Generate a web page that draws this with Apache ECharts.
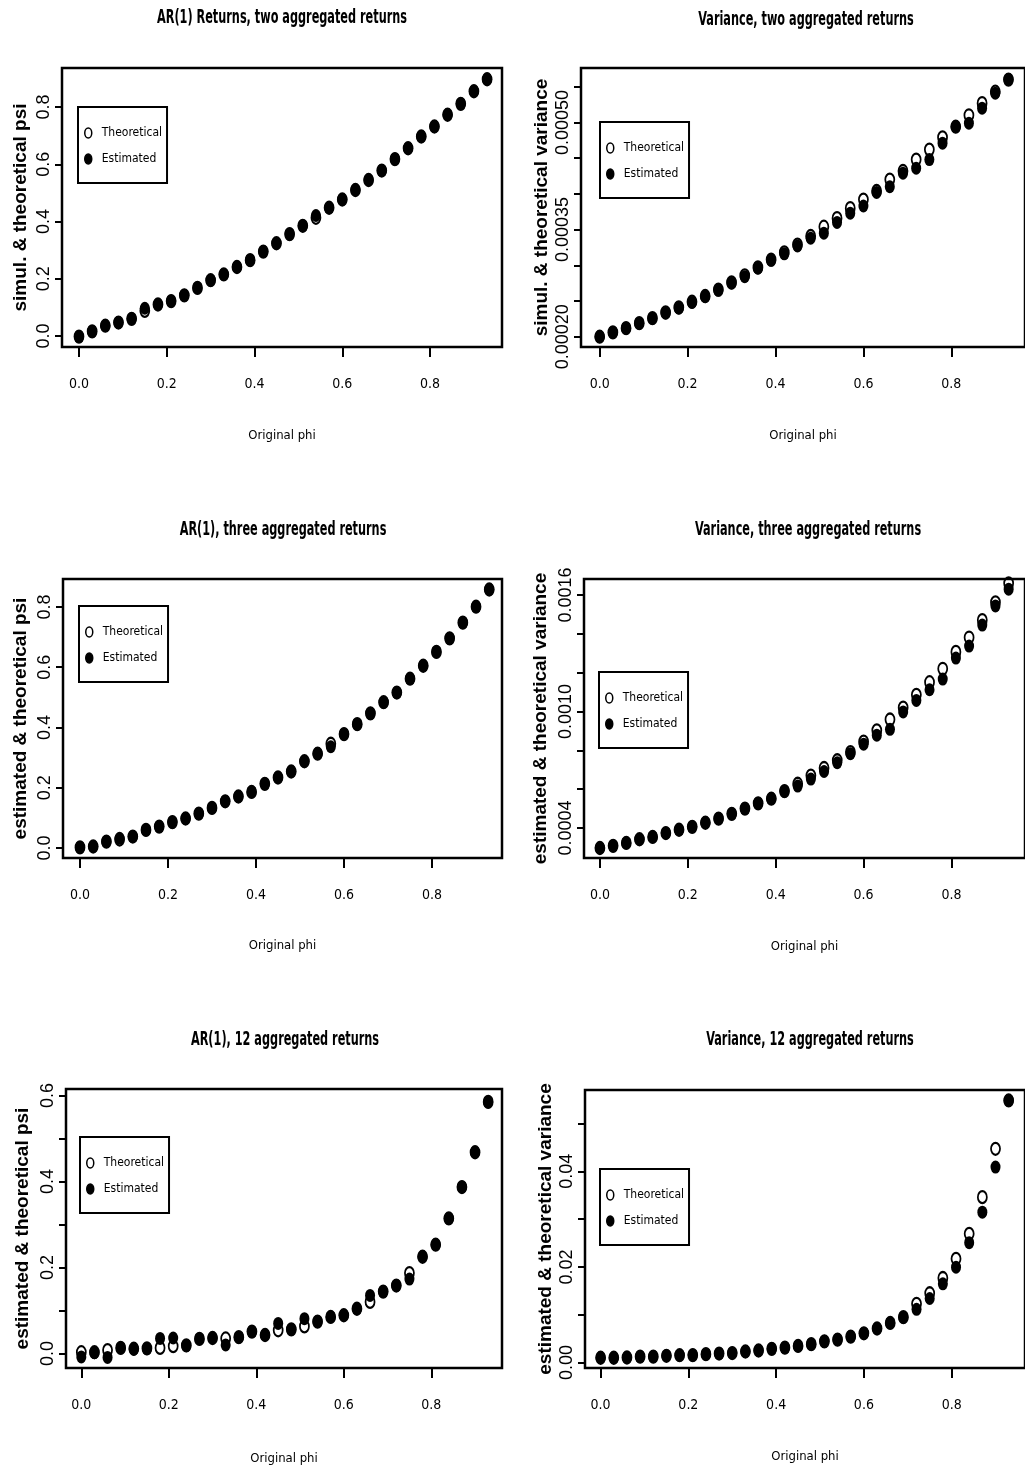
<!DOCTYPE html>
<html><head><meta charset="utf-8">
<script src="https://cdn.jsdelivr.net/npm/echarts@6/dist/echarts.min.js"></script>
<style>html,body{margin:0;padding:0;background:#fff}#c{width:1025px;height:1474px}</style>
</head><body><div id="c"></div>
<script>
// ---------- DATA ----------
const phi = [0.00,0.03,0.06,0.09,0.12,0.15,0.18,0.21,0.24,0.27,0.30,0.33,0.36,0.39,0.42,0.45,
             0.48,0.51,0.54,0.57,0.60,0.63,0.66,0.69,0.72,0.75,0.78,0.81,0.84,0.87,0.90,0.93];

const titles = ['AR(1) Returns, two aggregated returns','Variance, two aggregated returns',
  'AR(1), three aggregated returns','Variance, three aggregated returns',
  'AR(1), 12 aggregated returns','Variance, 12 aggregated returns'];
const yNames = ['simul. & theoretical psi','simul. & theoretical variance',
  'estimated & theoretical psi','estimated & theoretical variance',
  'estimated & theoretical psi','estimated & theoretical variance'];
const xName = 'Original phi';
const legendNames = ['Theoretical','Estimated'];
const xTicks = [0, 0.2, 0.4, 0.6, 0.8];

// Panel 1: AR(1) psi, two aggregated
const p1Theo = [-0.002,0.016,0.036,0.047,0.060,0.088,0.110,0.122,0.142,0.168,0.195,0.215,0.241,0.265,0.295,0.324,
                0.356,0.385,0.413,0.448,0.477,0.510,0.545,0.578,0.618,0.656,0.697,0.732,0.773,0.811,0.855,0.897];
const p1Est  = [-0.002,0.016,0.036,0.047,0.060,0.097,0.110,0.122,0.142,0.168,0.195,0.215,0.241,0.265,0.295,0.324,
                0.356,0.385,0.421,0.448,0.477,0.510,0.545,0.578,0.618,0.656,0.697,0.732,0.773,0.811,0.855,0.897];
const p1YTicks = [0, 0.2, 0.4, 0.6, 0.8];
const p1YLabels = [0, 0.2, 0.4, 0.6, 0.8];

// Panel 2: variance, two aggregated
const p2Theo = [0.000200,0.000206,0.000212,0.000219,0.000226,0.000234,0.000241,0.000249,0.000257,0.000266,0.000276,
                0.000286,0.000297,0.000308,0.000318,0.000329,0.000341,0.000354,0.000366,0.000380,0.000392,0.000404,
                0.000420,0.000432,0.000448,0.000462,0.000479,0.000494,0.000510,0.000527,0.000543,0.000560];
const p2Est  = [0.000200,0.000206,0.000212,0.000219,0.000226,0.000233,0.000240,0.000248,0.000256,0.000265,0.000275,
                0.000284,0.000296,0.000307,0.000316,0.000327,0.000338,0.000345,0.000360,0.000373,0.000383,0.000402,
                0.000410,0.000429,0.000436,0.000448,0.000471,0.000494,0.000499,0.000520,0.000541,0.000560];
const p2YTicks = [0.00020,0.00025,0.00030,0.00035,0.00040,0.00045,0.00050,0.00055];
const p2YLabels = [0.00020,0.00035,0.00050];

// Panel 3: AR(1) psi, three aggregated
const p3Theo = [0.002,0.005,0.021,0.028,0.038,0.060,0.071,0.086,0.098,0.114,0.133,0.155,0.171,0.186,0.213,0.234,
                0.254,0.288,0.313,0.346,0.378,0.411,0.447,0.484,0.516,0.562,0.605,0.651,0.696,0.748,0.801,0.858];
const p3Est  = [0.002,0.005,0.021,0.032,0.038,0.060,0.071,0.086,0.098,0.114,0.133,0.155,0.171,0.186,0.213,0.234,
                0.254,0.288,0.313,0.336,0.378,0.411,0.447,0.484,0.516,0.562,0.605,0.651,0.696,0.748,0.801,0.858];
const p3YTicks = [0, 0.2, 0.4, 0.6, 0.8];
const p3YLabels = [0, 0.2, 0.4, 0.6, 0.8];

// Panel 4: variance, three aggregated
const p4Theo = [0.000297,0.000308,0.000323,0.000342,0.000354,0.000374,0.000391,0.000406,0.000427,0.000448,0.000473,
                0.000500,0.000527,0.000551,0.000590,0.000628,0.000670,0.000709,0.000749,0.000791,0.000845,0.000903,
                0.000959,0.001020,0.001086,0.001151,0.001220,0.001307,0.001381,0.001471,0.001562,0.001660];
const p4Est  = [0.000297,0.000308,0.000323,0.000342,0.000354,0.000374,0.000391,0.000406,0.000427,0.000448,0.000473,
                0.000500,0.000527,0.000551,0.000590,0.000616,0.000652,0.000691,0.000736,0.000783,0.000832,0.000878,
                0.000908,0.000998,0.001057,0.001112,0.001167,0.001275,0.001337,0.001445,0.001544,0.001630];
const p4YTicks = [0.0004,0.0006,0.0008,0.0010,0.0012,0.0014,0.0016];
const p4YLabels = [0.0004,0.0010,0.0016];

// Panel 5: AR(1) psi, 12 aggregated
const p5Theo = [0.003,0.003,0.008,0.013,0.011,0.012,0.013,0.017,0.019,0.034,0.036,0.035,0.038,0.051,0.043,0.054,
                0.056,0.063,0.074,0.085,0.089,0.104,0.120,0.144,0.158,0.187,0.225,0.253,0.314,0.387,0.468,0.585];
const p5Est  = [-0.008,0.002,-0.009,0.013,0.010,0.011,0.035,0.036,0.018,0.034,0.036,0.020,0.038,0.051,0.043,0.070,
                0.056,0.081,0.074,0.085,0.089,0.104,0.135,0.144,0.158,0.173,0.225,0.253,0.314,0.387,0.468,0.585];
const p5YTicks = [0, 0.1, 0.2, 0.3, 0.4, 0.5, 0.6];
const p5YLabels = [0, 0.2, 0.4, 0.6];

// Panel 6: variance, 12 aggregated
const p6Theo = [0.00100,0.00100,0.00105,0.00122,0.00122,0.00140,0.00153,0.00155,0.00174,0.00187,0.00198,0.00230,
                0.00251,0.00286,0.00311,0.00346,0.00384,0.00442,0.00478,0.00541,0.00611,0.00711,0.00827,0.00948,
                0.01227,0.01448,0.01768,0.02169,0.02692,0.03459,0.04470,0.05481];
const p6Est  = [0.00100,0.00100,0.00105,0.00122,0.00122,0.00140,0.00153,0.00155,0.00174,0.00187,0.00198,0.00230,
                0.00251,0.00286,0.00311,0.00346,0.00384,0.00442,0.00478,0.00541,0.00611,0.00711,0.00827,0.00948,
                0.01113,0.01339,0.01646,0.01994,0.02507,0.03145,0.04087,0.05481];
const p6YTicks = [0, 0.01, 0.02, 0.03, 0.04, 0.05];
const p6YLabels = [0, 0.02, 0.04];

const theoSets = [p1Theo,p2Theo,p3Theo,p4Theo,p5Theo,p6Theo];
const estSets  = [p1Est,p2Est,p3Est,p4Est,p5Est,p6Est];
const yTickSets = [p1YTicks,p2YTicks,p3YTicks,p4YTicks,p5YTicks,p6YTicks];
const yLabelSets = [p1YLabels,p2YLabels,p3YLabels,p4YLabels,p5YLabels,p6YLabels];
const yDecimals = [1,5,1,4,1,2];

// ---------- LAYOUT ----------
const layout = [
  {g:[62,68,440,279],   x:[-0.0387,0.964],  y:[-0.0384,0.9363],     tx:282, ty:18,   lg:[78,107],  yg:32, xg:82},
  {g:[581,68,452,279],  x:[-0.0425,0.9676], y:[0.0001856,0.0005762],tx:806, ty:20,   lg:[600,122], yg:30, xg:82},
  {g:[63,579,439,279],  x:[-0.0386,0.959],  y:[-0.0332,0.8929],     tx:283, ty:530,  lg:[79,606],  yg:33, xg:81},
  {g:[584,579,452,279], x:[-0.0362,0.9672], y:[0.0002455,0.0016825],tx:808, ty:530,  lg:[599,672], yg:34, xg:82},
  {g:[66,1089,436,279], x:[-0.035,0.9616],  y:[-0.0337,0.615],      tx:285, ty:1040, lg:[80,1137], yg:34, xg:84},
  {g:[585,1090,451,278],x:[-0.0356,0.9672], y:[-0.00115,0.0570],    tx:810, ty:1040, lg:[600,1169],yg:30, xg:82}
];

const NARROW = "'Liberation Sans Narrow','DejaVu Sans Condensed','Arial Narrow',sans-serif";
const SANS = "'Liberation Sans',Arial,sans-serif";
const ELLIPSE = 'path://M0,10A10,10 0 1,1 20,10A10,10 0 1,1 0,10Z';

const option = {
  backgroundColor:'#fff',
  animation:false,
  graphic:[], grid:[], xAxis:[], yAxis:[], legend:[], series:[]
};

layout.forEach((L,i)=>{
  option.graphic.push({type:'text', x:L.tx, y:L.ty, scaleX:0.66, silent:true,
    style:{text:titles[i], fill:'#000', font:"bold 19px " + NARROW, align:'center', verticalAlign:'middle'}});
  option.grid.push({left:L.g[0], top:L.g[1], width:L.g[2], height:L.g[3], show:true,
    borderColor:'#000', borderWidth:2.5, backgroundColor:'transparent', containLabel:false});
  option.xAxis.push({type:'value', gridIndex:i, min:L.x[0], max:L.x[1],
    axisLine:{show:false, onZero:false}, splitLine:{show:false},
    axisTick:{show:true, customValues:xTicks, length:10, lineStyle:{color:'#000', width:2}},
    axisLabel:{show:true, customValues:xTicks, margin:30, color:'#000', fontFamily:NARROW, fontSize:14,
      formatter:v=>Number(v).toFixed(1)},
    name:xName, nameLocation:'middle', nameGap:L.xg,
    nameTextStyle:{fontFamily:NARROW, fontSize:13, color:'#000'}});
  const dec = yDecimals[i];
  option.yAxis.push({type:'value', gridIndex:i, min:L.y[0], max:L.y[1],
    axisLine:{show:false, onZero:false}, splitLine:{show:false},
    axisTick:{show:true, customValues:yTickSets[i], length:7, lineStyle:{color:'#000', width:2}},
    axisLabel:{show:true, customValues:yLabelSets[i], rotate:90, margin:9, color:'#000',
      fontFamily:SANS, fontSize:18, formatter:v=>Number(v).toFixed(dec)},
    name:yNames[i], nameLocation:'middle', nameGap:L.yg, nameRotate:90,
    nameTextStyle:{fontFamily:SANS, fontWeight:'bold', fontSize:19, color:'#000'}});
  option.legend.push({data:legendNames, orient:'vertical', left:L.lg[0], top:L.lg[1],
    padding:[20,5,18,6], itemGap:14, itemWidth:7, itemHeight:10, symbolKeepAspect:false,
    borderColor:'#000', borderWidth:2, backgroundColor:'#fff', selectedMode:false,
    itemStyle:{borderWidth:1.5},
    textStyle:{fontFamily:NARROW, fontSize:12, color:'#000', padding:[0,0,0,5]}});
  option.series.push({name:'Theoretical', type:'scatter', xAxisIndex:i, yAxisIndex:i, clip:false,
    symbol:ELLIPSE, symbolKeepAspect:false, symbolSize:[9,12],
    itemStyle:{color:'rgba(0,0,0,0)', borderColor:'#000', borderWidth:2, opacity:1},
    data:phi.map((x,k)=>[x, theoSets[i][k]])});
  option.series.push({name:'Estimated', type:'scatter', xAxisIndex:i, yAxisIndex:i, clip:false,
    symbol:ELLIPSE, symbolKeepAspect:false, symbolSize:[10,13],
    itemStyle:{color:'#000', borderColor:'#000', borderWidth:0, opacity:1},
    data:phi.map((x,k)=>[x, estSets[i][k]])});
});

const chart = echarts.init(document.getElementById('c'), null, {renderer:'canvas', width:1025, height:1474});
chart.setOption(option);
</script>
</body></html>
